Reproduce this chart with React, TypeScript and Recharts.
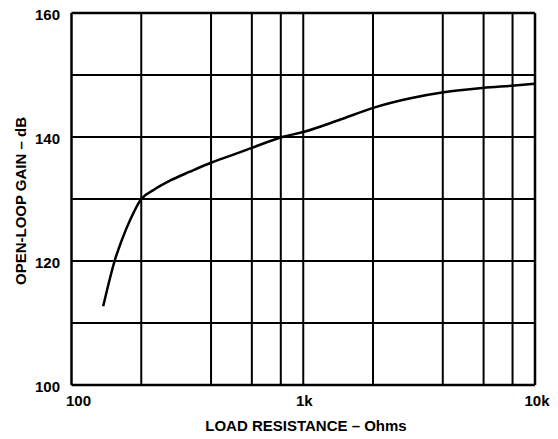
import { LineChart, Line, XAxis, YAxis, ReferenceLine } from 'recharts';

// load resistance (ohms) and open-loop gain (dB)
const resistance = [137, 154, 165, 179, 200, 226, 266, 324, 400, 483, 600, 812, 1000, 1419, 2005, 2865, 4034, 5956, 8148, 10000];
const gain = [112.7, 120.2, 123.4, 126.6, 130.0, 131.45, 132.95, 134.4, 135.85, 136.95, 138.25, 140.0, 140.8, 142.7, 144.7, 146.2, 147.2, 147.9, 148.3, 148.6];

const xTicks = [100, 1000, 10000];
const yTicks = [100, 120, 140, 160];
const xGrid = [200, 400, 600, 800, 1000, 2000, 4000, 6000, 8000];
const yGrid = [110, 120, 130, 140, 150];

const data = resistance.map((r, i) => ({ r, g: gain[i] }));

const font = '"Liberation Sans", Arial, sans-serif';

const fmtX = (v: number) => (v >= 1000 ? `${v / 1000}k` : String(v));

function XTick({ x, y, payload }: any) {
  const v = payload.value;
  const dx = v === 100 ? 7 : v === 10000 ? 2 : 1;
  return (
    <text x={x + dx} y={y + 13} textAnchor="middle" fontSize={15} fontWeight="bold" fontFamily={font} fill="#000">
      {fmtX(v)}
    </text>
  );
}

function YTick({ x, y, payload }: any) {
  return (
    <text x={x - 3.5} y={y + 6.5} textAnchor="end" fontSize={15} fontWeight="bold" fontFamily={font} fill="#000">
      {payload.value}
    </text>
  );
}

export default function App() {
  return (
    <div style={{ position: 'absolute', left: 0, top: 0, width: 558, height: 439, background: '#fff' }}>
      <LineChart width={558} height={439} data={data} margin={{ top: 13, right: 23, bottom: 0, left: 0 }}>
        <XAxis
          dataKey="r"
          type="number"
          scale="log"
          domain={[100, 10000]}
          ticks={xTicks}
          tick={<XTick />}
          tickLine={false}
          axisLine={false}
          height={54}
          allowDataOverflow
        />
        <YAxis
          type="number"
          domain={[100, 160]}
          ticks={yTicks}
          tick={<YTick />}
          tickLine={false}
          axisLine={false}
          width={71.5}
          allowDataOverflow
        />
        {xGrid.map((v) => (
          <ReferenceLine key={'x' + v} x={v} stroke="#000" strokeWidth={2} />
        ))}
        {yGrid.map((v) => (
          <ReferenceLine key={'y' + v} y={v} stroke="#000" strokeWidth={2} />
        ))}
        <ReferenceLine x={100} stroke="#000" strokeWidth={2.5} />
        <ReferenceLine x={10000} stroke="#000" strokeWidth={2.5} />
        <ReferenceLine y={100} stroke="#000" strokeWidth={2.5} />
        <ReferenceLine y={160} stroke="#000" strokeWidth={2.5} />
        <Line
          type="monotone"
          dataKey="g"
          stroke="#000"
          strokeWidth={2.5}
          dot={false}
          activeDot={false}
          isAnimationActive={false}
        />
      </LineChart>
      <div
        style={{
          position: 'absolute',
          left: 20,
          top: 201,
          transform: 'translate(-50%, -50%) rotate(-90deg)',
          whiteSpace: 'nowrap',
          fontFamily: font,
          fontWeight: 'bold',
          fontSize: 15,
          lineHeight: 1,
        }}
      >
        OPEN-LOOP GAIN – dB
      </div>
      <div
        style={{
          position: 'absolute',
          left: 306,
          top: 425,
          transform: 'translate(-50%, -50%)',
          whiteSpace: 'nowrap',
          fontFamily: font,
          fontWeight: 'bold',
          fontSize: 15,
          lineHeight: 1,
        }}
      >
        LOAD RESISTANCE – Ohms
      </div>
    </div>
  );
}
